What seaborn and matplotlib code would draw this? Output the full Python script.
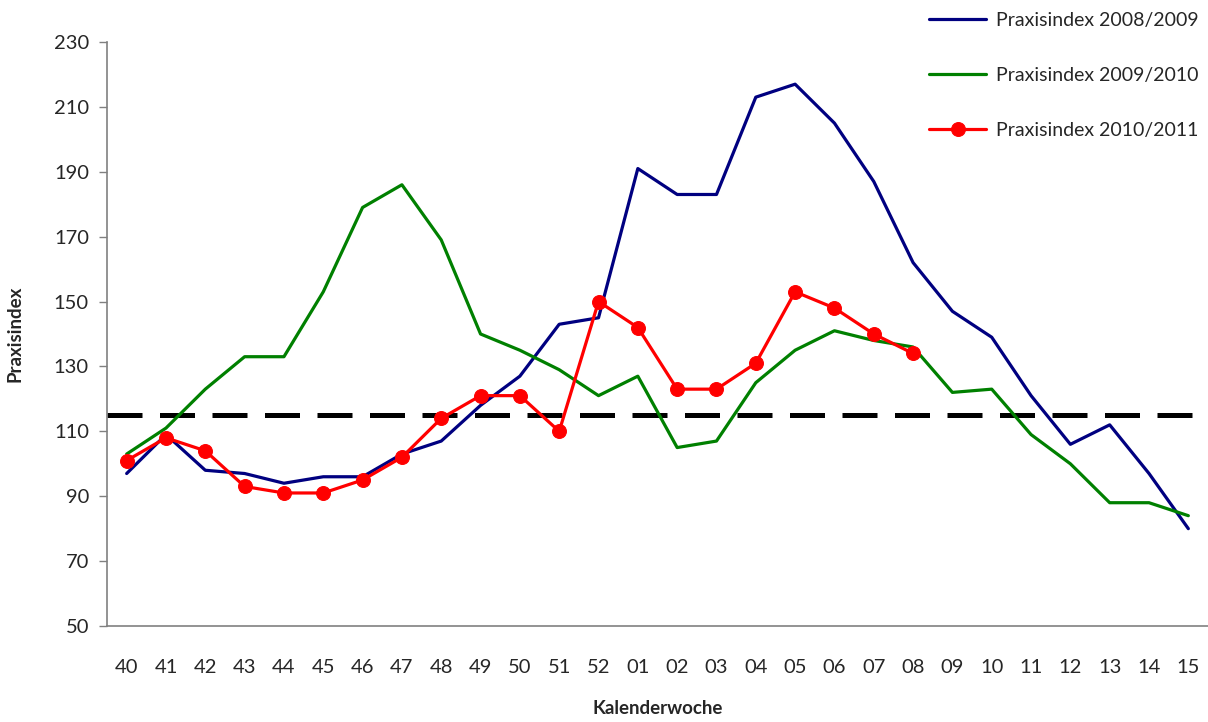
import numpy as np
import pandas as pd
import matplotlib
matplotlib.use('Agg')
import matplotlib.pyplot as plt
import seaborn as sns

weeks = ['40', '41', '42', '43', '44', '45', '46', '47', '48', '49', '50', '51', '52',
         '01', '02', '03', '04', '05', '06', '07', '08', '09', '10', '11', '12', '13', '14', '15']
season_0809 = [97, 109, 98, 97, 94, 96, 96, 103, 107, 118, 127, 143, 145,
               191, 183, 183, 213, 217, 205, 187, 162, 147, 139, 121, 106, 112, 97, 80]
season_0910 = [103, 111, 123, 133, 133, 153, 179, 186, 169, 140, 135, 129, 121,
               127, 105, 107, 125, 135, 141, 138, 136, 122, 123, 109, 100, 88, 88, 84]
season_1011 = [101, 108, 104, 93, 91, 91, 95, 102, 114, 121, 121, 110, 150,
               142, 123, 123, 131, 153, 148, 140, 134]
baseline = 115

sns.set_style('white')
plt.rcParams['font.family'] = ['Lato', 'DejaVu Sans']

pos = np.arange(len(weeks))
df = pd.DataFrame({'pos': pos, 's0809': season_0809, 's0910': season_0910})
df_red = pd.DataFrame({'pos': pos[:len(season_1011)], 's1011': season_1011})

fig = plt.figure(figsize=(12.08, 7.22), dpi=100)
ax = fig.add_axes([107 / 1208, 1 - 626 / 722, 1 - 107 / 1208, (626 - 42) / 722])

ax.axhline(baseline, color='black', lw=3.6, dashes=(7, 3.5), zorder=1)
sns.lineplot(data=df, x='pos', y='s0809', ax=ax, color='#000080', lw=2.3,
             label='Praxisindex 2008/2009', zorder=2)
sns.lineplot(data=df, x='pos', y='s0910', ax=ax, color='#008000', lw=2.3,
             label='Praxisindex 2009/2010', zorder=2)
sns.lineplot(data=df_red, x='pos', y='s1011', ax=ax, color='#ff0000', lw=2.3,
             marker='o', markersize=10, markeredgecolor='#ff0000',
             label='Praxisindex 2010/2011', zorder=3)

ax.set_xlim(-0.5, len(weeks) - 0.5)
ax.set_ylim(50, 230)
ax.set_yticks(range(50, 231, 20))
ax.set_xticks(pos)
ax.set_xticklabels(weeks)
ax.set_xticks(np.arange(-0.5, len(weeks), 1), minor=True)
ax.tick_params(axis='x', which='major', length=0, pad=24, labelsize=14.5)
ax.tick_params(axis='x', which='minor', length=6, width=1, color='#808080', direction='out')
ax.tick_params(axis='y', which='major', length=6, width=1, color='#808080', direction='out',
               labelsize=14.5, pad=7, left=True)

for s in ['top', 'right']:
    ax.spines[s].set_visible(False)
for s in ['left', 'bottom']:
    ax.spines[s].set_color('#808080')
    ax.spines[s].set_linewidth(1.2)

ax.set_xlabel('Kalenderwoche', fontsize=13.5, fontweight='bold')
ax.set_ylabel('Praxisindex', fontsize=13.5, fontweight='bold', labelpad=22)
ax.xaxis.set_label_coords(0.5, -0.127)

ax.legend(loc='upper right', bbox_to_anchor=(1206 / 1208, 1 - 4 / 722),
          bbox_transform=fig.transFigure, frameon=False, fontsize=14,
          labelspacing=1.95, handlelength=2.9, handletextpad=0.5, borderaxespad=0)

fig.savefig('out.png', dpi=100)
